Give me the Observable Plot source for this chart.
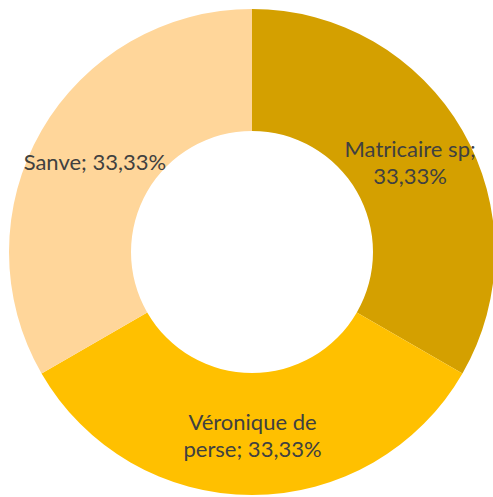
<!DOCTYPE html>
<html>
<head>
<meta charset="utf-8">
<script src="https://cdn.jsdelivr.net/npm/d3@7"></script>
<script src="https://cdn.jsdelivr.net/npm/@observablehq/plot@0.6"></script>
<style>
  html, body { margin: 0; padding: 0; background: #fff; }
</style>
</head>
<body>
<div id="chart"></div>
<script>
const categories = ["Matricaire sp", "Véronique de perse", "Sanve"];
const values = [33.33, 33.33, 33.33];
const labels = ["Matricaire sp;\n33,33%", "Véronique de\nperse; 33,33%", "Sanve; 33,33%"];
const colors = ["#D4A000", "#FFC000", "#FFD69A"];

const W = 493, H = 497;
const cx = 252, cy = 252, outerR = 243, innerR = 121;

const data = categories.map((c, i) => ({category: c, value: values[i], label: labels[i], color: colors[i]}));
const pie = d3.pie().sort(null).value(d => d.value).startAngle(0).endAngle(2 * Math.PI);
const arcs = pie(data);
const arcGen = d3.arc().innerRadius(innerR).outerRadius(outerR);
arcs.forEach(a => { const [px, py] = arcGen.centroid(a); a.cx = cx + px; a.cy = cy + py; });

const arcMark = (index, scales, values, dimensions) => {
  const g = d3.create("svg:g");
  g.selectAll("path").data(arcs).join("path")
    .attr("transform", `translate(${scales.x(cx)},${scales.y(cy)})`)
    .attr("d", arcGen)
    .attr("fill", d => d.data.color);
  return g.node();
};

const chart = Plot.plot({
  width: W,
  height: H,
  margin: 0,
  x: {domain: [0, W], range: [0, W], axis: null},
  y: {domain: [0, H], range: [0, H], axis: null},
  style: {background: "#fff"},
  marks: [
    arcMark,
    Plot.text(arcs, {
      x: d => d.cx,
      y: d => d.cy,
      text: d => d.data.label,
      fill: "#404040",
      fontSize: 22,
      fontFamily: "Lato",
      lineHeight: 1.23,
      textAnchor: "middle"
    })
  ]
});
document.getElementById("chart").appendChild(chart);
</script>
</body>
</html>
